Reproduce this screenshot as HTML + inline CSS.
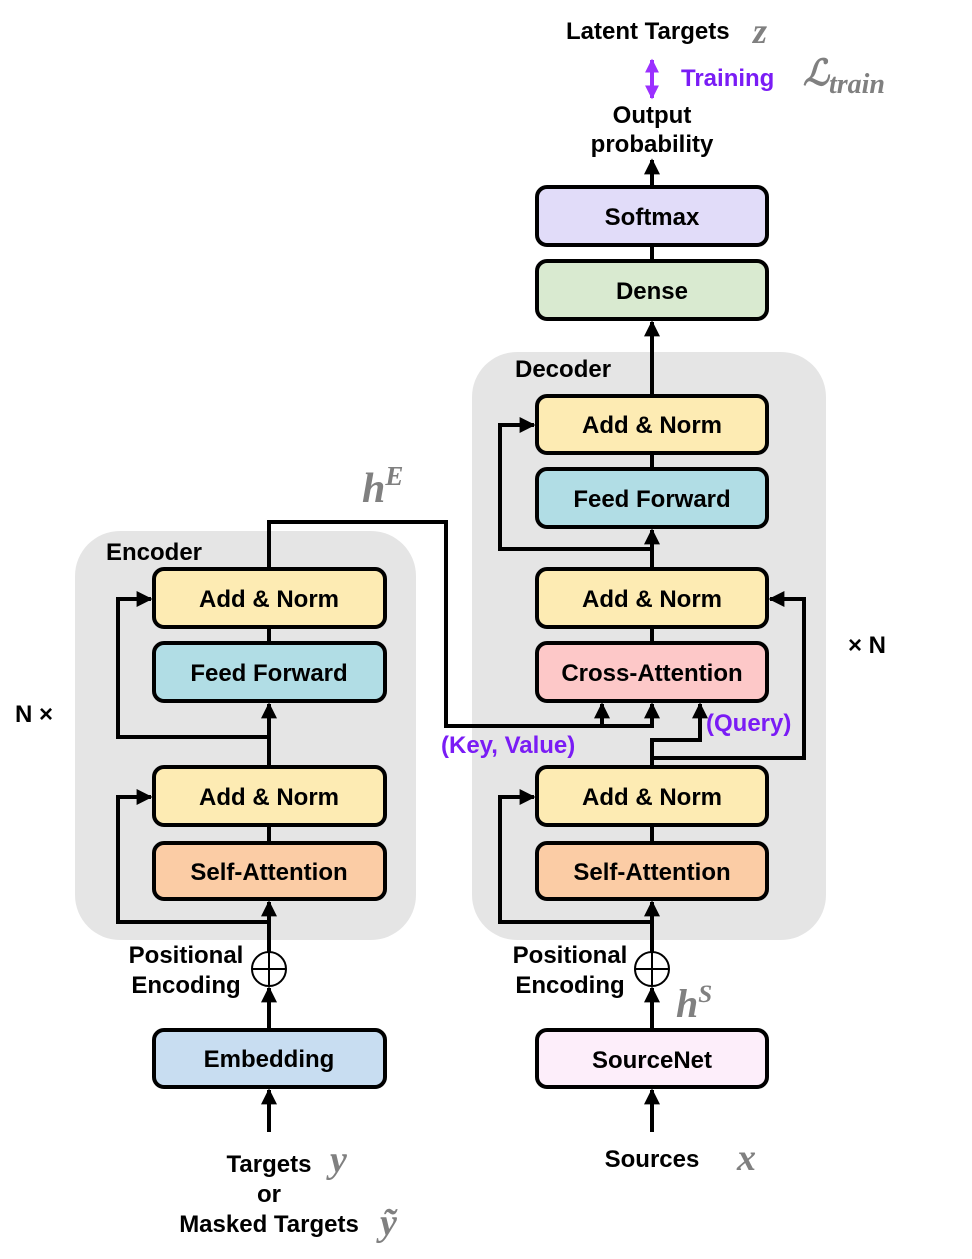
<!DOCTYPE html>
<html><head><meta charset="utf-8"><style>
body{margin:0;background:#fff}
svg{display:block}
text{font-family:"Liberation Sans","NanumGothic",sans-serif;font-weight:bold;font-size:24px;fill:#000}
.m{font-family:"Liberation Serif",serif;font-style:italic;fill:#808080;font-weight:bold}
.p{fill:#7a1cf5}
</style></head><body>
<svg width="972" height="1259" viewBox="0 0 972 1259" xmlns="http://www.w3.org/2000/svg">
<defs>
<marker id="a" viewBox="0 0 10 10" refX="9" refY="5" markerWidth="4" markerHeight="4" orient="auto-start-reverse" markerUnits="strokeWidth"><path d="M0,0L10,5L0,10z" fill="#000"/></marker>
<marker id="ap" viewBox="0 0 10 10" refX="9" refY="5" markerWidth="3.5" markerHeight="3.5" orient="auto-start-reverse" markerUnits="strokeWidth"><path d="M0,0L10,5L0,10z" fill="#9b30ff"/></marker>
</defs>
<rect x="75" y="531" width="341" height="409" rx="45" fill="#e5e5e5"/>
<rect x="472" y="352" width="354" height="588" rx="45" fill="#e5e5e5"/>
<g fill="none" stroke="#000" stroke-width="4">
<line x1="269" y1="1132" x2="269" y2="1090" marker-end="url(#a)"/>
<line x1="269" y1="1030" x2="269" y2="988" marker-end="url(#a)"/>
<line x1="269" y1="952" x2="269" y2="902" marker-end="url(#a)"/>
<polyline points="269,922 118,922 118,797 151,797" marker-end="url(#a)"/>
<line x1="269" y1="825" x2="269" y2="843"/>
<line x1="269" y1="767" x2="269" y2="704" marker-end="url(#a)"/>
<polyline points="269,737 118,737 118,599 151,599" marker-end="url(#a)"/>
<line x1="269" y1="627" x2="269" y2="643"/>
<polyline points="269,569 269,522 446,522 446,726 652,726"/>
<line x1="602" y1="728" x2="602" y2="704" marker-end="url(#a)"/>
<line x1="652" y1="728" x2="652" y2="704" marker-end="url(#a)"/>
<line x1="652" y1="1132" x2="652" y2="1090" marker-end="url(#a)"/>
<line x1="652" y1="1030" x2="652" y2="988" marker-end="url(#a)"/>
<line x1="652" y1="952" x2="652" y2="902" marker-end="url(#a)"/>
<polyline points="652,922 500,922 500,797 534,797" marker-end="url(#a)"/>
<line x1="652" y1="825" x2="652" y2="843"/>
<polyline points="652,767 652,740 700,740 700,704" marker-end="url(#a)"/>
<polyline points="652,758 804,758 804,599 770,599" marker-end="url(#a)"/>
<line x1="652" y1="627" x2="652" y2="643"/>
<line x1="652" y1="569" x2="652" y2="530" marker-end="url(#a)"/>
<polyline points="652,549 500,549 500,425 534,425" marker-end="url(#a)"/>
<line x1="652" y1="453" x2="652" y2="469"/>
<line x1="652" y1="396" x2="652" y2="322" marker-end="url(#a)"/>
<line x1="652" y1="245" x2="652" y2="261"/>
<line x1="652" y1="187" x2="652" y2="160" marker-end="url(#a)"/>
</g>
<line x1="652" y1="60" x2="652" y2="98" stroke="#9b30ff" stroke-width="4" marker-start="url(#ap)" marker-end="url(#ap)"/>
<g stroke="#000" stroke-width="2" fill="#fff">
<circle cx="269" cy="969" r="17"/><circle cx="652" cy="969" r="17"/>
</g>
<g stroke="#000" stroke-width="2"><line x1="252" y1="969" x2="286" y2="969"/><line x1="269" y1="952" x2="269" y2="986"/><line x1="635" y1="969" x2="669" y2="969"/><line x1="652" y1="952" x2="652" y2="986"/></g>
<g stroke="#000" stroke-width="4">
<rect x="154" y="569" width="231" height="58" rx="10" fill="#fdebb3"/>
<rect x="154" y="643" width="231" height="58" rx="10" fill="#b1dde5"/>
<rect x="154" y="767" width="231" height="58" rx="10" fill="#fdebb3"/>
<rect x="154" y="843" width="231" height="56" rx="10" fill="#fbcca5"/>
<rect x="154" y="1030" width="231" height="57" rx="10" fill="#c8ddf1"/>
<rect x="537" y="187" width="230" height="58" rx="10" fill="#e1dcf9"/>
<rect x="537" y="261" width="230" height="58" rx="10" fill="#d9ead0"/>
<rect x="537" y="396" width="230" height="57" rx="10" fill="#fdebb3"/>
<rect x="537" y="469" width="230" height="58" rx="10" fill="#b1dde5"/>
<rect x="537" y="569" width="230" height="58" rx="10" fill="#fdebb3"/>
<rect x="537" y="643" width="230" height="58" rx="10" fill="#fdc8c8"/>
<rect x="537" y="767" width="230" height="58" rx="10" fill="#fdebb3"/>
<rect x="537" y="843" width="230" height="56" rx="10" fill="#fbcca5"/>
<rect x="537" y="1030" width="230" height="57" rx="10" fill="#fdeefa"/>
</g>
<g text-anchor="middle">
<text x="269" y="607">Add &amp; Norm</text>
<text x="269" y="681">Feed Forward</text>
<text x="269" y="805">Add &amp; Norm</text>
<text x="269" y="880">Self-Attention</text>
<text x="269" y="1067">Embedding</text>
<text x="652" y="225">Softmax</text>
<text x="652" y="299">Dense</text>
<text x="652" y="433">Add &amp; Norm</text>
<text x="652" y="507">Feed Forward</text>
<text x="652" y="607">Add &amp; Norm</text>
<text x="652" y="681">Cross-Attention</text>
<text x="652" y="805">Add &amp; Norm</text>
<text x="652" y="880">Self-Attention</text>
<text x="652" y="1068">SourceNet</text>
<text x="652" y="123">Output</text>
<text x="652" y="152">probability</text>
<text x="186" y="963">Positional</text>
<text x="186" y="993">Encoding</text>
<text x="570" y="963">Positional</text>
<text x="570" y="993">Encoding</text>
<text x="269" y="1172">Targets</text>
<text x="269" y="1202">or</text>
<text x="269" y="1232">Masked Targets</text>
<text x="652" y="1167">Sources</text>
</g>
<text x="566" y="39">Latent Targets</text>
<text x="106" y="560">Encoder</text>
<text x="515" y="377">Decoder</text>
<text x="15" y="722">N ×</text>
<text x="848" y="653">× N</text>
<text class="p" x="681" y="86">Training</text>
<text class="p" x="441" y="753">(Key, Value)</text>
<text class="p" x="706" y="731">(Query)</text>
<text class="m" x="753" y="43" style="font-size:36px">z</text>
<text class="m" x="803" y="85" style="font-size:36px">ℒ<tspan style="font-size:28px" dy="8">train</tspan></text>
<text class="m" x="362" y="502" style="font-size:42px">h<tspan style="font-size:27px" dy="-17">E</tspan></text>
<text class="m" x="676" y="1017" style="font-size:40px">h<tspan style="font-size:25px" dy="-15">S</tspan></text>
<text class="m" x="330" y="1172" style="font-size:38px">y</text>
<text class="m" x="380" y="1235" style="font-size:38px">ỹ</text>
<text class="m" x="737" y="1170" style="font-size:38px">x</text>
</svg>
</body></html>
